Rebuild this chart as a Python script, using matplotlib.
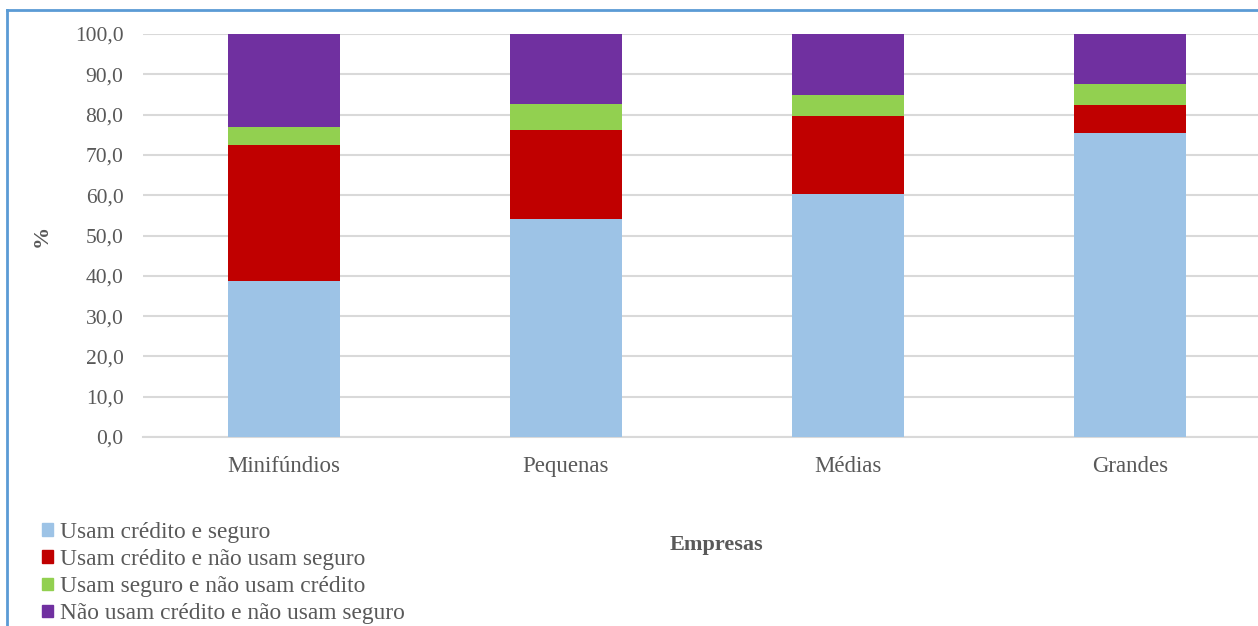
import matplotlib.pyplot as plt
import numpy as np
from matplotlib.patches import Rectangle
from matplotlib.lines import Line2D

categorias = ['Minifúndios', 'Pequenas', 'Médias', 'Grandes']
credito_seguro = [38.7, 54.1, 60.4, 75.4]
credito_sem_seguro = [33.8, 22.1, 19.3, 6.9]
seguro_sem_credito = [4.4, 6.4, 5.1, 5.4]
nenhum = [23.1, 17.4, 15.2, 12.3]

series = [
    ('Usam crédito e seguro', credito_seguro, '#9dc3e6'),
    ('Usam crédito e não usam seguro', credito_sem_seguro, '#c00000'),
    ('Usam seguro e não usam crédito', seguro_sem_credito, '#92d050'),
    ('Não usam crédito e não usam seguro', nenhum, '#7030a0'),
]

plt.rcParams['font.family'] = ['Liberation Serif', 'DejaVu Serif']
cinza = '#595959'

fig = plt.figure(figsize=(12.58, 6.26), dpi=100)
ax = fig.add_axes([143 / 1258, 1 - 437 / 626, 1128 / 1258, 403 / 626])

x = np.arange(len(categorias))
base = np.zeros(len(categorias))
for nome, vals, cor in series:
    ax.bar(x, vals, width=0.4, bottom=base, color=cor, label=nome, linewidth=0, zorder=3)
    base += np.array(vals)

ax.set_xlim(-0.5, 3.5)
ax.set_ylim(0, 100)
ax.set_yticks(np.arange(0, 101, 10))
ax.set_yticklabels([f'{v:.1f}'.replace('.', ',') for v in np.arange(0, 101, 10)])
ax.set_xticks(x)
ax.set_xticklabels(categorias)
ax.grid(axis='y', color='#d9d9d9', linewidth=1.5, zorder=0)
for s in ['top', 'right', 'left']:
    ax.spines[s].set_visible(False)
ax.spines['bottom'].set_color('#d9d9d9')
ax.spines['bottom'].set_linewidth(1.5)
ax.tick_params(axis='y', length=0, labelsize=15.5, labelcolor=cinza, pad=14)
ax.tick_params(axis='x', length=0, labelsize=16.5, labelcolor=cinza, pad=14)

fig.text(42 / 1258, 1 - 236 / 626, '%', rotation=90, ha='center', va='center',
         fontsize=16, fontweight='bold', color=cinza)
fig.text(716 / 1258, 1 - 545 / 626, 'Empresas', ha='center', va='center',
         fontsize=16, fontweight='bold', color=cinza)

handles = [Rectangle((0, 0), 1, 1, color=c) for _, _, c in series]
fig.legend(handles, [n for n, _, _ in series], loc='upper left',
           bbox_to_anchor=(42 / 1258, 1 - 522 / 626), frameon=False,
           fontsize=16.8, labelcolor=cinza, handlelength=0.45, handleheight=0.45,
           handletextpad=0.3, labelspacing=0.26, borderpad=0, borderaxespad=0)

# moldura azul (esquerda e topo)
fig.add_artist(Line2D([7 / 1258, 7 / 1258], [0, 1 - 10 / 626],
                      transform=fig.transFigure, color='#5b9bd5', linewidth=2))
fig.add_artist(Line2D([7 / 1258, 1], [1 - 10 / 626, 1 - 10 / 626],
                      transform=fig.transFigure, color='#5b9bd5', linewidth=2))

fig.savefig('out.png', dpi=100)
